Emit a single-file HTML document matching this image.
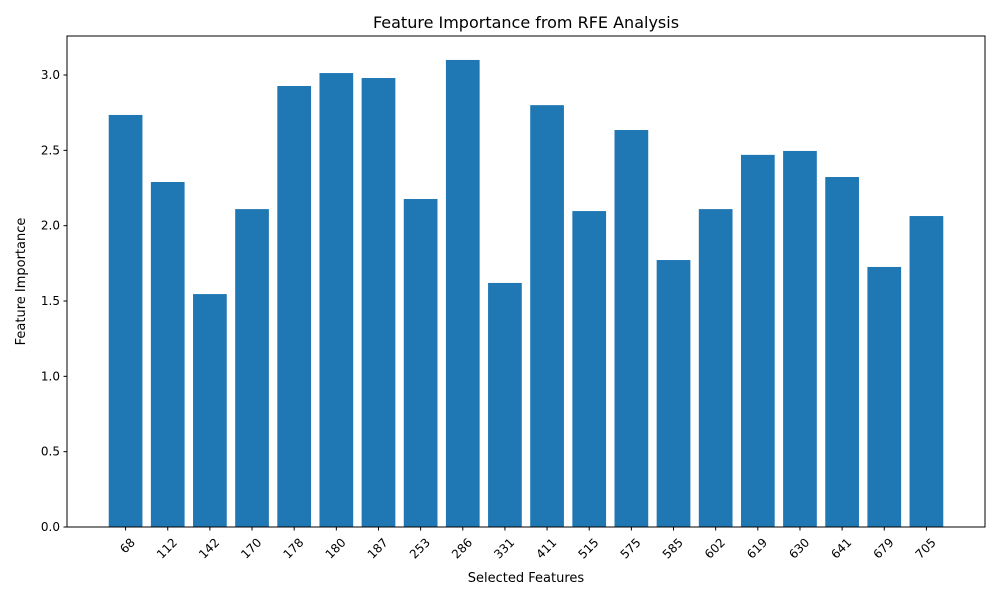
<!DOCTYPE html>
<html><head><meta charset="utf-8"><style>
body{margin:0;background:#fff;font-family:"Liberation Sans","DejaVu Sans",sans-serif;}
svg text{font-family:"DejaVu Sans","Liberation Sans",sans-serif;fill:#000;}
</style></head><body>
<svg id="chart" width="1000" height="600" viewBox="0 0 1000 600"></svg>
<script>
const categories=["68","112","142","170","178","180","187","253","286","331","411","515","575","585","602","619","630","641","679","705"];
const values=[2.735,2.29,1.546,2.11,2.927,3.013,2.98,2.177,3.10,1.62,2.80,2.097,2.635,1.772,2.11,2.47,2.496,2.323,1.726,2.064];
const yTicks=[0,0.5,1.0,1.5,2.0,2.5,3.0];
const yTickLabels=["0.0","0.5","1.0","1.5","2.0","2.5","3.0"];
const NS="http://www.w3.org/2000/svg";
const svg=document.getElementById('chart');
const L=67,R=985,T=36,B=527;
const xmin=-1.39,xmax=categories.length-1+1.39;
const ymax=3.259;
const xs=i=>L+(i-xmin)/(xmax-xmin)*(R-L);
const ys=v=>B-v/ymax*(B-T);
function mk(tag,attrs,parent){const e=document.createElementNS(NS,tag);for(const k in attrs)e.setAttribute(k,attrs[k]);(parent||svg).appendChild(e);return e;}
const bw=0.8*(R-L)/(xmax-xmin);
values.forEach((v,i)=>{
 const r=mk('rect',{x:xs(i)-bw/2,y:ys(v),width:bw,height:B-ys(v),fill:'#1f77b4'});
 
 
});
const frame=mk('rect',{x:L,y:T,width:R-L,height:B-T,fill:'none',stroke:'#000','stroke-width':1});


yTicks.forEach((t,i)=>{
 const y=ys(t);
 mk('line',{x1:L-3.5,x2:L,y1:y,y2:y,stroke:'#000'});
 const tx=mk('text',{x:L-7,y:y+4,'text-anchor':'end','font-size':12});
 tx.textContent=yTickLabels[i];
 
 
});
categories.forEach((c,i)=>{
 const x=xs(i);
 mk('line',{x1:x,x2:x,y1:B,y2:B+3.5,stroke:'#000'});
 const tx=mk('text',{x:x+4,y:B+10,'text-anchor':'end','font-size':12,transform:`rotate(-45 ${x+4} ${B+10})`,'dominant-baseline':'hanging'});
 tx.textContent=c;
 
 
});
const title=mk('text',{x:(L+R)/2,y:28,'text-anchor':'middle','font-size':16});
title.textContent="Feature Importance from RFE Analysis";


const xt=mk('text',{x:(L+R)/2,y:582,'text-anchor':'middle','font-size':13});
xt.textContent="Selected Features";


const yt=mk('text',{x:25,y:(T+B)/2,'text-anchor':'middle','font-size':13,transform:`rotate(-90 25 ${(T+B)/2})`});
yt.textContent="Feature Importance";


</script>
</body></html>
